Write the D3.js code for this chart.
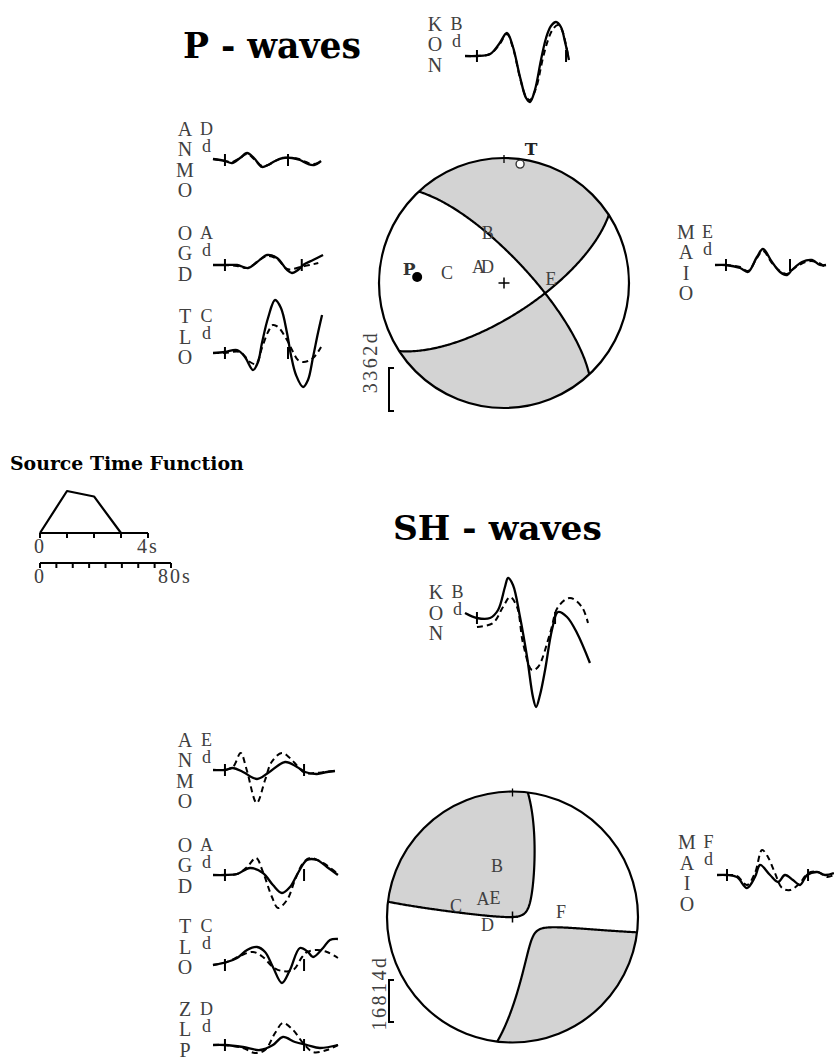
<!DOCTYPE html>
<html>
<head>
<meta charset="utf-8">
<script src="https://cdn.jsdelivr.net/npm/d3@7"></script>
<style>
  html, body { margin: 0; padding: 0; background: #fff; }
  svg { display: block; }
  .lab { font-family: "Liberation Serif", "DejaVu Serif", serif; fill: #404040; }
  .title { font-family: "DejaVu Serif", serif; font-weight: bold; fill: #000; }
</style>
</head>
<body>
<svg id="fig" width="834" height="1057"></svg>
<script>
// ---------------- Focal mechanism ----------------
const planeStrike = [317, 57];      // degrees
const planeDip = [74, 69];          // degrees
const polarity = -1;                // sign of the compressional quadrants
const pAxisAzPl = [274, 31];        // P axis: azimuth, plunge
const tAxisAzPl = [7.7, 4.5];       // T axis: azimuth, plunge

// Station positions on the focal sphere (azimuth, take-off angle from nadir)
const pCodes = ["B", "D", "A", "C", "E"];
const pAzimuth = [342, 314, 302, 280, 85];
const pTakeoff = [34.6, 15, 19.6, 38.2, 31];
const shCodes = ["B", "E", "A", "C", "D", "F"];
const shAzimuth = [343, 316.6, 302, 280.6, 252, 84.7];
const shTakeoff = [34.6, 16.5, 22.6, 37.8, 17, 31.8];

const pScaleLabel = "3362d";
const shScaleLabel = "16814d";

// ---------------- Source time function ----------------
const stfTime = [0, 1, 2, 3];
const stfAmp = [0, 1, 0.87, 0];
const stfTicks = [0, 1, 2, 3, 4];
const stfTickLabels = ["0", "", "", "", "4s"];
const waveTicks = [0, 10, 20, 30, 40, 50, 60, 70, 80];
const waveTickLabels = ["0", "", "", "", "", "", "", "", "80s"];

// ---------------- Waveforms: [time s, amplitude] (solid = observed, dashed = synthetic) ----------------
const pKonObs = [[0,0],[7.3,0],[15.3,2],[20.8,12],[25.6,23],[29.3,9],[33.6,-21],[37.3,-42],[39.7,-46],[42.7,-34],[46.4,-4],[49.5,18],[52.5,30],[55.6,34],[58.6,29],[61.1,14],[63.5,-4]];
const pKonSyn = [[0,0],[7.3,0],[15.3,2],[20.8,11],[25.6,22],[29.3,8],[33.6,-22],[37.3,-41],[39.7,-44],[43.4,-32],[47.6,-2],[50.7,16],[53.7,27],[56.8,31],[59.2,26],[61.7,11],[62.9,1]];
const pAnmoObs = [[0,1],[7.3,-1],[11.6,-3],[16.5,2],[20.8,7],[25.0,2],[29.9,-7],[33.6,-5],[37.9,-1],[42.7,2],[48.2,2],[53.1,0],[58.0,-4],[61.7,-5],[66.0,-1]];
const pAnmoSyn = [[0,1],[7.3,-1],[11.6,-2],[16.5,2],[20.8,6],[25.0,1],[29.9,-6],[33.6,-5],[37.9,-1],[42.7,2],[48.2,2],[52.5,1],[56.8,-2],[60.5,-4],[64.1,-3],[66.0,0]];
const pOgddObs = [[0,0],[7.3,0],[14.7,0],[21.4,-3],[26.9,3],[33.0,10],[39.1,7],[45.2,-5],[48.2,-8],[51.9,-5],[55.0,0],[61.1,5],[67.2,10]];
const pOgddSyn = [[0,0],[7.3,0],[14.7,-1],[21.4,-3],[26.9,3],[33.0,9],[39.1,6],[45.2,-4],[48.9,-4],[53.1,-2],[59.2,0],[64.3,2]];
const pTloObs = [[0,0],[7.3,1],[14.7,3],[19.5,-4],[24.4,-17],[27.5,-9],[29.9,10],[33.6,35],[37.9,53],[41.5,45],[45.2,20],[47.6,-2],[50.7,-22],[55.0,-34],[58.0,-27],[61.1,-4],[64.1,20],[66.6,38]];
const pTloSyn = [[0,0],[7.3,0],[16.5,1],[22.6,-9],[26.3,-11],[29.9,5],[33.6,21],[36.6,28],[39.7,26],[45.2,13],[48.9,1],[51.9,-7],[55.0,-9],[58.0,-8],[61.1,-5],[64.1,1],[66.0,6]];
const pMaioObs = [[0,0],[6.7,0],[15.3,-3],[20.2,-7],[25.6,8],[29.3,16],[34.8,3],[39.7,-7],[44.0,-10],[47.0,-5],[53.1,3],[59.2,5],[64.1,0],[67.8,0]];
const pMaioSyn = [[0,0],[6.7,0],[15.3,-2],[20.2,-6],[25.6,7],[29.3,14],[34.8,2],[39.7,-6],[44.0,-9],[47.0,-5],[52.5,1],[58.6,4],[63.5,2],[67.2,-2]];

const shKonObs = [[0,5],[7.3,0],[15.3,0],[20.2,8],[24.4,31],[26.3,40],[29.3,33],[33.6,1],[37.9,-39],[41.5,-79],[43.4,-89],[45.8,-77],[48.9,-52],[53.1,-12],[56.8,6],[62.3,1],[68.4,-15],[76.3,-45]];
const shKonSyn = [[7.3,-9],[17.1,-5],[23.2,11],[27.5,21],[31.8,11],[35.4,-25],[40.9,-52],[44.6,-49],[52.0,-15],[56.8,11],[64.1,20],[71.4,11],[75.1,-5]];
const shAnmoObs = [[0,0],[7.3,0],[12.2,2],[18.3,-2],[26.9,-9],[33.6,-3],[44.0,8],[51.3,3],[56.2,-2],[63.5,-4],[69.6,-2],[74.5,-1]];
const shAnmoSyn = [[7.3,0],[12.2,3],[16.9,17],[20.6,0],[26.7,-33],[31.8,-10],[35.8,8],[42.0,17],[47.0,12],[52.1,3],[56.2,-3],[62.3,-3],[68.4,-2],[74.5,-1]];
const shOgddObs = [[0,0],[7.3,0],[14.7,1],[22.6,7],[30.5,2],[36.6,-10],[42.1,-18],[47.0,-12],[51.9,2],[57.4,15],[63.5,15],[69.6,8],[76.3,0]];
const shOgddSyn = [[0,0],[7.3,0],[14.7,1],[20.8,8],[26.3,17],[30.5,3],[36.0,-22],[39.7,-33],[45.2,-25],[50.1,-5],[55.0,12],[59.2,17],[67.2,12],[76.3,1]];
const shTloObs = [[0,0],[8.5,3],[14.7,7],[20.8,15],[26.9,18],[31.8,13],[36.6,-2],[42.1,-18],[47.0,-5],[53.1,17],[58.0,13],[61.1,8],[67.2,17],[71.4,25],[76.3,26]];
const shTloSyn = [[0,0],[8.5,3],[16.5,9],[24.4,13],[30.5,8],[36.6,-2],[42.1,-6],[48.9,-5],[54.4,8],[57.4,13],[63.5,15],[69.6,13],[76.3,7]];
const shZlpObs = [[0,0],[7.3,0],[18.3,-2],[28.7,-5],[36.6,0],[42.7,8],[50.1,3],[57.4,0],[65.3,-3],[76.3,0]];
const shZlpSyn = [[0,0],[7.3,0],[18.3,-3],[25.6,-8],[31.8,-5],[37.9,12],[42.7,22],[48.9,15],[55.0,2],[61.1,-7],[69.6,-5],[76.3,0]];
const shMaioObs = [[0,0],[6.1,0],[12.2,-2],[18.3,-13],[23.2,-2],[26.3,10],[32.4,0],[37.3,-7],[41.5,0],[46.4,-5],[50.7,-10],[55.0,0],[61.1,3],[66.0,0],[71.4,2]];
const shMaioSyn = [[0,0],[6.1,0],[12.2,-1],[18.3,-10],[23.2,2],[27.5,25],[31.1,18],[35.4,2],[39.7,-13],[44.6,-15],[50.7,-8],[55.6,2],[61.7,3],[67.2,-2],[71.4,0]];

// Inversion window marks (s)
const pWindows = [[7.3,61.7],[7.3,45.8],[7.3,54.2],[7.3,45.8],[6.7,45.8]];
const shWindows = [[7.3,55.0],[7.3,55.6],[7.3,55.6],[7.3,55.6],[7.3,55.6],[6.1,55.6]];

// ---------------- Drawing ----------------
const svg = d3.select("#fig");
const INK = "#000";
const SHADE = "#d3d3d3";
const LAB = 20;          // label font size
const CAP = 0.33;        // half cap height, in em

function title(txt, x, baseline, width) {
  const t = svg.append("text").attr("class", "title").attr("x", x).attr("y", baseline)
    .style("font-size", "30px").text(txt);
  const w = t.node().getComputedTextLength();
  t.style("font-size", (30 * width / w).toFixed(2) + "px");
}
title("P - waves", 183, 58, 178);
title("SH - waves", 393, 540, 209);
title("Source Time Function", 10, 470, 234);

// Station waveform panel
function panel(name, code, obs, syn, win, lx, ly, x0, y0) {
  const g = svg.append("g");
  const x = d3.scaleLinear().domain([0, 80]).range([x0, x0 + 131]);
  const y = d3.scaleLinear().domain([-100, 100]).range([y0 + 100, y0 - 100]);
  const line = d3.line().x(d => x(d[0])).y(d => y(d[1])).curve(d3.curveCatmullRom.alpha(0.5));
  g.append("path").attr("d", line(syn)).attr("fill", "none").attr("stroke", INK)
    .attr("stroke-width", 2).attr("stroke-dasharray", "6,4");
  g.append("path").attr("d", line(obs)).attr("fill", "none").attr("stroke", INK)
    .attr("stroke-width", 2.3).attr("stroke-linejoin", "round");
  g.selectAll("line.win").data(win).join("line").attr("class", "win")
    .attr("x1", d => x(d)).attr("x2", d => x(d))
    .attr("y1", y(0) - 6).attr("y2", y(0) + 6)
    .attr("stroke", INK).attr("stroke-width", 2);
  // station name written vertically
  const nm = g.append("text").attr("class", "lab").attr("text-anchor", "middle").style("font-size", LAB + "px");
  nm.selectAll("tspan").data(name.split("")).join("tspan")
    .attr("x", lx).attr("y", (d, i) => ly + i * 20.5 + CAP * LAB).text(d => d);
  // station code on the sphere, with its component letter
  const cd = g.append("text").attr("class", "lab").attr("text-anchor", "middle").style("font-size", "18px");
  cd.selectAll("tspan").data([code, "d"]).join("tspan")
    .attr("x", lx + 21.5).attr("y", (d, i) => ly + i * 17 + CAP * 18).text(d => d);
}

panel("KON", pCodes[0], pKonObs, pKonSyn, pWindows[0], 435, 24, 465, 56);
panel("ANMO", pCodes[1], pAnmoObs, pAnmoSyn, pWindows[1], 185, 129, 213, 160);
panel("OGD", pCodes[2], pOgddObs, pOgddSyn, pWindows[2], 185, 233, 213, 265);
panel("TLO", pCodes[3], pTloObs, pTloSyn, pWindows[3], 185, 316.5, 213, 353);
panel("MAIO", pCodes[4], pMaioObs, pMaioSyn, pWindows[4], 686, 232, 715, 265);

panel("KON", shCodes[0], shKonObs, shKonSyn, shWindows[0], 436, 592.5, 465, 618);
panel("ANMO", shCodes[1], shAnmoObs, shAnmoSyn, shWindows[1], 185, 740, 213, 770);
panel("OGD", shCodes[2], shOgddObs, shOgddSyn, shWindows[2], 185, 845, 213, 875);
panel("TLO", shCodes[3], shTloObs, shTloSyn, shWindows[3], 185, 926.5, 213, 965);
panel("ZLP", shCodes[4], shZlpObs, shZlpSyn, shWindows[4], 185, 1009, 213, 1045);
panel("MAIO", shCodes[5], shMaioObs, shMaioSyn, shWindows[5], 687, 842.5, 717, 875);

// ---------------- Focal sphere (lower hemisphere, equal area) ----------------
const rad = Math.PI / 180;
const dot = (a, b) => a[0] * b[0] + a[1] * b[1] + a[2] * b[2];
// plane normals in (north, east, down)
const normals = planeStrike.map((s, i) => {
  const dd = (s + 90) * rad, dp = planeDip[i] * rad;
  return [Math.sin(dp) * Math.cos(dd), Math.sin(dp) * Math.sin(dd), -Math.cos(dp)];
});
const [n1, n2] = normals;

function project(v) {           // unit vector (N,E,D) -> disk coords
  if (v[2] < 0) v = v.map(c => -c);
  const th = Math.acos(Math.min(1, v[2]));
  const r = Math.SQRT2 * Math.sin(th / 2);
  const az = Math.atan2(v[1], v[0]);
  return [r * Math.sin(az), r * Math.cos(az)];
}
function fromAngles(azDeg, toDeg) {
  const a = azDeg * rad, t = toDeg * rad;
  return [Math.sin(t) * Math.cos(a), Math.sin(t) * Math.sin(a), Math.cos(t)];
}
function ray(x, y) {
  const r = Math.min(1, Math.hypot(x, y));
  const th = 2 * Math.asin(r / Math.SQRT2), az = Math.atan2(x, y);
  return {
    v: [Math.sin(th) * Math.cos(az), Math.sin(th) * Math.sin(az), Math.cos(th)],
    phi: [-Math.sin(az), Math.cos(az), 0]
  };
}
const pAmp = (x, y) => { const q = ray(x, y); return polarity * dot(n1, q.v) * dot(n2, q.v); };
const shAmp = (x, y) => {
  const q = ray(x, y);
  return polarity * (dot(n1, q.v) * dot(n2, q.phi) + dot(n2, q.v) * dot(n1, q.phi));
};

function ball(id, cx, cy, R, amp, strokeContour, codes, azs, tos) {
  const bx = d3.scaleLinear().domain([-1, 1]).range([cx - R, cx + R]);
  const by = d3.scaleLinear().domain([-1, 1]).range([cy + R, cy - R]);
  const N = 241, EXT = 1.08;
  const gx = d3.scaleLinear().domain([0.5, N - 0.5]).range([-EXT, EXT]);
  const gy = d3.scaleLinear().domain([0.5, N - 0.5]).range([EXT, -EXT]);
  const vals = new Float64Array(N * N);
  for (let j = 0; j < N; j++) for (let i = 0; i < N; i++) vals[j * N + i] = amp(gx(i + 0.5), gy(j + 0.5));
  const contours = d3.contours().size([N, N]).thresholds([0])(vals);
  const path = d3.geoPath(d3.geoTransform({
    point(px, py) { this.stream.point(bx(gx(px)), by(gy(py))); }
  }));

  svg.append("clipPath").attr("id", id).append("circle").attr("cx", cx).attr("cy", cy).attr("r", R);
  const g = svg.append("g");
  g.append("circle").attr("cx", cx).attr("cy", cy).attr("r", R).attr("fill", "#fff");
  const cg = g.append("g").attr("clip-path", `url(#${id})`);
  cg.append("path").attr("d", path(contours[0])).attr("fill", SHADE)
    .attr("stroke", strokeContour ? INK : "none").attr("stroke-width", 2.2);

  if (!strokeContour) {
    // nodal planes as great circles
    const gl = d3.line().x(d => bx(d[0])).y(d => by(d[1]));
    planeStrike.forEach((s, i) => {
      const st = [Math.cos(s * rad), Math.sin(s * rad), 0];
      const dd = (s + 90) * rad, dp = planeDip[i] * rad;
      const dv = [Math.cos(dp) * Math.cos(dd), Math.cos(dp) * Math.sin(dd), Math.sin(dp)];
      const pts = d3.range(0, 180.5, 1).map(a => {
        const c = Math.cos(a * rad), sn = Math.sin(a * rad);
        return project([c * st[0] + sn * dv[0], c * st[1] + sn * dv[1], c * st[2] + sn * dv[2]]);
      });
      cg.append("path").attr("d", gl(pts)).attr("fill", "none").attr("stroke", INK).attr("stroke-width", 2.2);
    });
  }
  g.append("circle").attr("cx", cx).attr("cy", cy).attr("r", R).attr("fill", "none")
    .attr("stroke", INK).attr("stroke-width", 2.2);
  // north mark and centre cross
  g.append("line").attr("x1", bx(0)).attr("x2", bx(0)).attr("y1", by(1) - 3).attr("y2", by(1) + 5)
    .attr("stroke", INK).attr("stroke-width", 1.3);
  g.append("path").attr("d", `M${bx(0) - 5.5},${by(0)}h11M${bx(0)},${by(0) - 5.5}v11`)
    .attr("stroke", INK).attr("stroke-width", 1.5);

  codes.forEach((c, i) => {
    const p = project(fromAngles(azs[i], tos[i]));
    g.append("text").attr("class", "lab").attr("x", bx(p[0])).attr("y", by(p[1]) + CAP * 18)
      .attr("text-anchor", "middle").style("font-size", "18px").text(c);
  });
  return { bx, by };
}

const pb = ball("clipP", 504, 283, 125, pAmp, false, pCodes, pAzimuth, pTakeoff);
const sb = ball("clipSH", 512.5, 917, 125.5, shAmp, true, shCodes, shAzimuth, shTakeoff);

// P and T axes
const pAx = project(fromAngles(pAxisAzPl[0], 90 - pAxisAzPl[1]));
const tAx = project(fromAngles(tAxisAzPl[0], 90 - tAxisAzPl[1]));
svg.append("circle").attr("cx", pb.bx(pAx[0])).attr("cy", pb.by(pAx[1])).attr("r", 5).attr("fill", INK);
svg.append("text").attr("class", "title").attr("x", pb.bx(pAx[0]) - 8).attr("y", pb.by(pAx[1]) - 2)
  .attr("text-anchor", "middle").style("font-size", "17px").style("fill", "#333").text("P");
svg.append("circle").attr("cx", pb.bx(tAx[0])).attr("cy", pb.by(tAx[1])).attr("r", 4)
  .attr("fill", "#fff").attr("stroke", "#333").attr("stroke-width", 1.4);
svg.append("text").attr("class", "title").attr("x", pb.bx(tAx[0]) + 11).attr("y", pb.by(tAx[1]) - 9)
  .attr("text-anchor", "middle").style("font-size", "17px").style("fill", "#222").text("T");

// amplitude scale bars
function scaleBar(label, tx, ty, bx, y1, y2) {
  svg.append("text").attr("class", "lab")
    .attr("transform", `translate(${tx + CAP * LAB},${ty}) rotate(-90)`)
    .attr("text-anchor", "middle").style("font-size", LAB + "px").style("letter-spacing", "2.5px").text(label);
  svg.append("path").attr("d", `M${bx + 5},${y1}H${bx}V${y2}H${bx + 5}`)
    .attr("fill", "none").attr("stroke", INK).attr("stroke-width", 2);
}
scaleBar(pScaleLabel, 370, 362, 389, 368, 411);
scaleBar(shScaleLabel, 379, 993, 389, 980, 1022);

// ---------------- Source time function ----------------
const sx = d3.scaleLinear().domain([0, 4]).range([40, 148]);
const sy = d3.scaleLinear().domain([0, 1]).range([533, 491]);
svg.append("path").attr("d", d3.line().x(d => sx(d)).y((d, i) => sy(stfAmp[i]))(stfTime))
  .attr("fill", "none").attr("stroke", INK).attr("stroke-width", 2.2).attr("stroke-linejoin", "round");
function timeAxis(scale, ticks, labels, y, labelY, dx) {
  const g = svg.append("g");
  g.append("line").attr("x1", scale(ticks[0])).attr("x2", scale(ticks[ticks.length - 1]))
    .attr("y1", y).attr("y2", y).attr("stroke", INK).attr("stroke-width", 2.2);
  g.selectAll("line.t").data(ticks).join("line").attr("class", "t")
    .attr("x1", d => scale(d)).attr("x2", d => scale(d)).attr("y1", y).attr("y2", y + 5)
    .attr("stroke", INK).attr("stroke-width", 2);
  g.selectAll("text").data(ticks).join("text").attr("class", "lab")
    .attr("x", (d, i) => scale(d) + (labels[i].length > 1 ? dx : 0)).attr("y", labelY).attr("text-anchor", "middle")
    .style("font-size", LAB + "px").style("letter-spacing", "2px").text((d, i) => labels[i]);
}
timeAxis(sx, stfTicks, stfTickLabels, 533, 553, 0);
const wx = d3.scaleLinear().domain([0, 80]).range([40, 171]);
timeAxis(wx, waveTicks, waveTickLabels, 563, 583, 4);
</script>
</body>
</html>
